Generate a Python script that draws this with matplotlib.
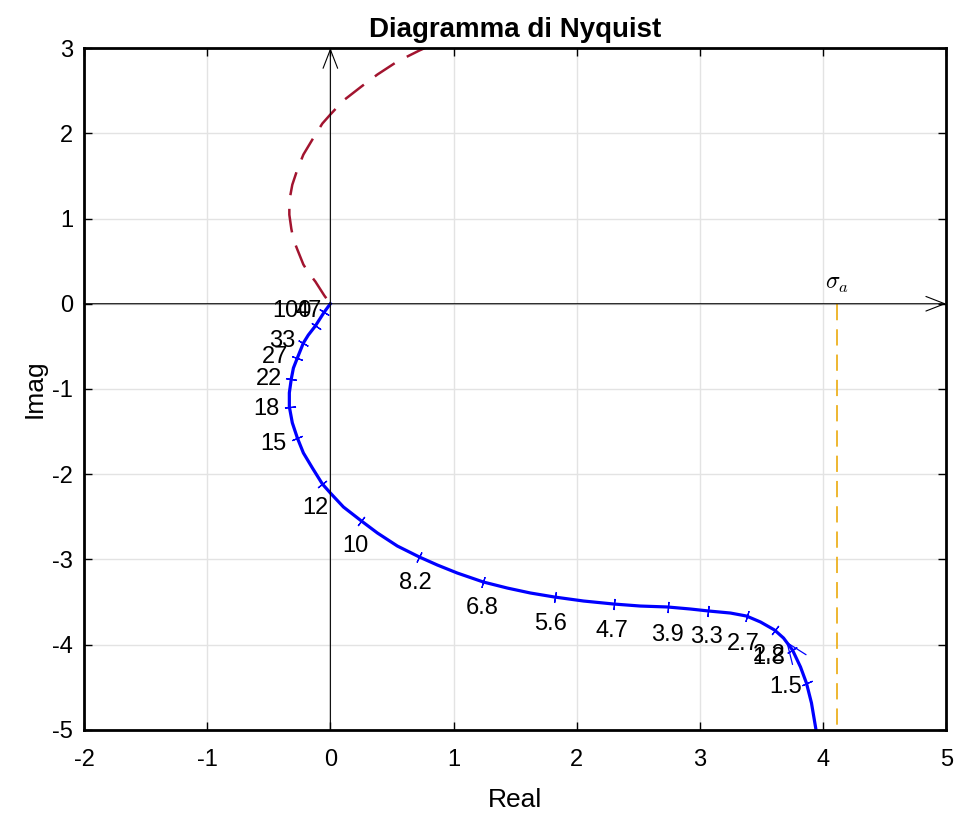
import numpy as np
import matplotlib
matplotlib.use('Agg')
import matplotlib.pyplot as plt

plt.rcParams['font.family'] = ['Liberation Sans', 'DejaVu Sans']
plt.rcParams['mathtext.fontset'] = 'cm'
plt.rcParams['axes.unicode_minus'] = False

# curva di Nyquist (omega > 0)
re_curva = [3.947, 3.939, 3.906, 3.865, 3.817, 3.752, 3.679, 3.606, 3.492, 3.378,
            3.248, 3.070, 2.924, 2.737, 2.517, 2.298, 2.055, 1.819, 1.624, 1.437,
            1.242, 1.031, 0.869, 0.723, 0.544, 0.382, 0.252, 0.106, 0.0, -0.065,
            -0.146, -0.219, -0.268, -0.309, -0.333, -0.333, -0.317, -0.300, -0.268,
            -0.219, -0.179, -0.122, -0.049, 0.0]
im_curva = [-5.035, -4.965, -4.683, -4.449, -4.261, -4.062, -3.921, -3.827, -3.733,
            -3.663, -3.628, -3.604, -3.581, -3.557, -3.546, -3.522, -3.487, -3.440,
            -3.393, -3.335, -3.264, -3.159, -3.065, -2.971, -2.842, -2.689, -2.548,
            -2.384, -2.220, -2.114, -1.926, -1.750, -1.574, -1.396, -1.209, -1.044,
            -0.880, -0.754, -0.636, -0.460, -0.367, -0.261, -0.096, 0.0]

# pulsazioni marcate
omega = ['1.5', '1.8', '2.2', '2.7', '3.3', '3.9', '4.7', '5.6', '6.8', '8.2',
         '10', '12', '15', '18', '22', '27', '33', '47', '100']
re_tacche = [3.87, 3.75, 3.61, 3.38, 3.07, 2.74, 2.30, 1.82, 1.24, 0.72, 0.25,
             -0.065, -0.27, -0.33, -0.32, -0.27, -0.22, -0.12, -0.05]
im_tacche = [-4.45, -4.06, -3.83, -3.66, -3.60, -3.56, -3.52, -3.44, -3.26, -2.97,
             -2.55, -2.12, -1.58, -1.21, -0.88, -0.64, -0.46, -0.26, -0.10]
re_etich = [3.70, 3.56, 3.56, 3.35, 3.05, 2.74, 2.29, 1.79, 1.23, 0.69, 0.20,
            -0.12, -0.46, -0.52, -0.50, -0.45, -0.39, -0.18, -0.31]
im_etich = [-4.50, -4.16, -4.12, -3.99, -3.91, -3.89, -3.84, -3.76, -3.57, -3.28,
            -2.84, -2.40, -1.65, -1.24, -0.88, -0.62, -0.44, -0.09, -0.09]

sigma_a = 4.11

fig = plt.figure(figsize=(9.58, 8.15), dpi=100)
ax = fig.add_axes([0.0877, 0.1043, 0.9, 0.8368])
ax.set_xlim(-2, 5)
ax.set_ylim(-5, 3)
ax.set_xticks(range(-2, 6))
ax.set_yticks(range(-5, 4))
ax.grid(True, color='#e3e3e3', linewidth=1)
ax.set_axisbelow(True)
ax.tick_params(direction='in', length=6, width=1, labelsize=17,
               top=True, right=True)
ax.tick_params(axis='x', pad=14)
ax.tick_params(axis='y', pad=8)
for s in ax.spines.values():
    s.set_linewidth(2)

# assi con frecce
ax.annotate('', xy=(5, 0), xytext=(-2, 0),
            arrowprops=dict(arrowstyle='->,head_length=0.9,head_width=0.35',
                            color='black', lw=0.8, shrinkA=0, shrinkB=0,
                            mutation_scale=15))
ax.annotate('', xy=(0, 3), xytext=(0, -5),
            arrowprops=dict(arrowstyle='->,head_length=0.9,head_width=0.35',
                            color='black', lw=0.8, shrinkA=0, shrinkB=0,
                            mutation_scale=15))

# asintoto
ax.plot([sigma_a, sigma_a], [0, -5], linestyle=(0, (9, 5)), color='#EDB120', lw=1.3)
ax.text(sigma_a, 0.1, r'$\sigma_a$', fontsize=17, ha='center', va='bottom')

# ramo omega < 0 (simmetrico)
ax.plot(re_curva, -np.array(im_curva), linestyle=(0, (9.5, 5.5)), color='#A2142F',
        lw=1.8, solid_joinstyle='round')

# ramo omega > 0
ax.plot(re_curva, im_curva, color='blue', lw=2.3, solid_joinstyle='round')

# tacche perpendicolari alla curva
pts = ax.transData.transform(np.column_stack([re_tacche, im_tacche]))
dx = np.gradient(pts[:, 0])
dy = np.gradient(pts[:, 1])
ang = np.degrees(np.arctan2(dy, dx))
for xt, yt, a in zip(re_tacche, im_tacche, ang):
    ax.plot(xt, yt, marker=(2, 2, a), markersize=8, color='blue', mew=0.9)

for xe, ye, t in zip(re_etich, im_etich, omega):
    ax.text(xe, ye, t, fontsize=17, ha='center', va='center')

# freccia di verso
ax.annotate('', xy=(3.70, -3.96), xytext=(3.75, -4.06),
            arrowprops=dict(arrowstyle='->,head_length=1.0,head_width=0.4',
                            color='blue', lw=0.9, shrinkA=0, shrinkB=0,
                            mutation_scale=15))

ax.set_title('Diagramma di Nyquist', fontsize=20, fontweight='bold', pad=8)
ax.set_xlabel('Real', fontsize=19, labelpad=12)
ax.set_ylabel('Imag', fontsize=19, labelpad=4)

fig.savefig('out.png', dpi=100)
